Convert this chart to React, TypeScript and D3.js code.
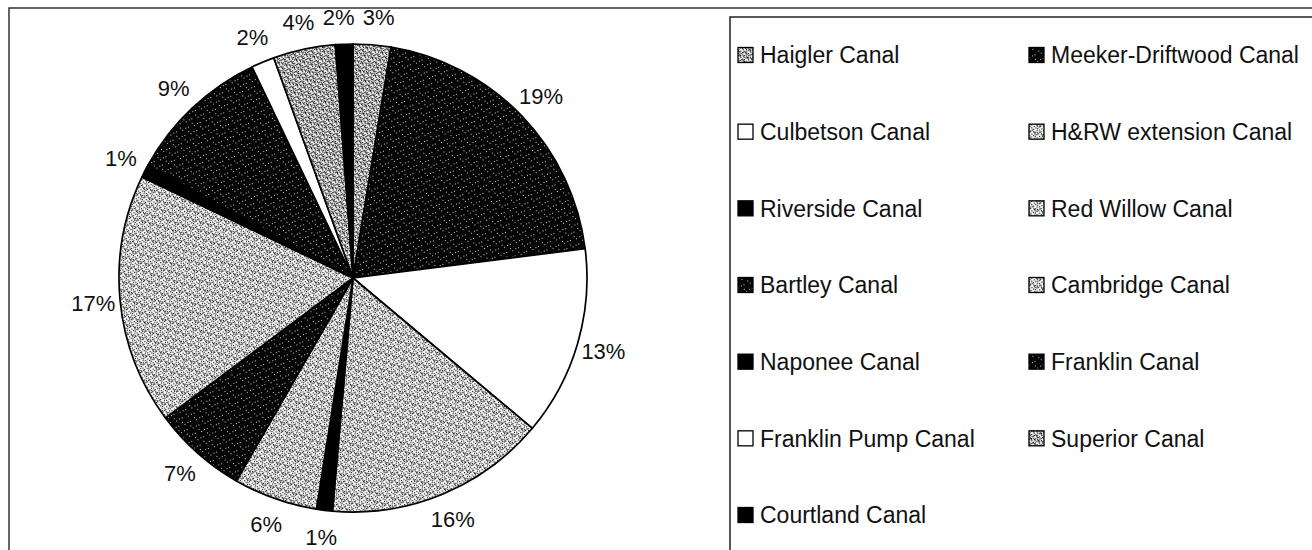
import React, { useEffect, useRef } from 'react';
import * as d3 from 'd3';

// canal names in legend order (row by row, two columns)
const canals = [
  'Haigler Canal',
  'Meeker-Driftwood Canal',
  'Culbetson Canal',
  'H&RW extension Canal',
  'Riverside Canal',
  'Red Willow Canal',
  'Bartley Canal',
  'Cambridge Canal',
  'Naponee Canal',
  'Franklin Canal',
  'Franklin Pump Canal',
  'Superior Canal',
  'Courtland Canal',
];

// share of each canal
const shares = [2.6, 20.4, 13.1, 15.3, 1.1, 5.8, 6.5, 17.3, 0.9, 9.9, 1.6, 4.3, 1.2];

// percentage labels as printed next to the slices
const pctLabels = ['3%', '19%', '13%', '16%', '1%', '6%', '7%', '17%', '1%', '9%', '2%', '4%', '2%'];

// fill style per canal (pattern ids)
const fillKinds = ['stipA', 'dark', 'white', 'stip', 'black', 'stip', 'dark', 'stip', 'black', 'dark', 'white', 'stipA', 'black'];

const FONT = '"Liberation Sans", Arial, Helvetica, sans-serif';

const App: React.FC = () => {
  const svgRef = useRef<SVGSVGElement>(null);

  useEffect(() => {
    if (!svgRef.current) return;
    const svg = d3.select(svgRef.current);
    svg.selectAll('*').remove();

    const width = 1312;
    const height = 550;
    svg.attr('width', width).attr('height', height).attr('viewBox', `0 0 ${width} ${height}`);

    // patterns that mimic the printed stipple
    const defs = svg.append('defs');
    const stipDots = [[0, 0], [3, 1], [6, 0], [1, 3], [5, 2], [2, 5], [7, 4], [4, 6], [0, 6], [6, 6], [3, 4], [1, 7], [5, 7], [7, 2]];
    const mkStip = (id: string, extra: number[][]) => {
      const p = defs.append('pattern').attr('id', id).attr('width', 8).attr('height', 8)
        .attr('patternUnits', 'userSpaceOnUse').attr('patternTransform', 'rotate(17)');
      p.append('rect').attr('width', 8).attr('height', 8).attr('fill', '#fff');
      [...stipDots, ...extra].forEach(([x, y]) => {
        p.append('rect').attr('x', x).attr('y', y).attr('width', 1.2).attr('height', 1.2).attr('fill', '#111');
      });
    };
    mkStip('stip', []);
    mkStip('stipA', [[2, 0], [4, 3], [0, 4], [6, 3], [2, 7]]);
    const dk = defs.append('pattern').attr('id', 'dark').attr('width', 9).attr('height', 9)
      .attr('patternUnits', 'userSpaceOnUse').attr('patternTransform', 'rotate(23)');
    dk.append('rect').attr('width', 9).attr('height', 9).attr('fill', '#050505');
    [[1, 2], [5, 6], [7, 1], [3, 8]].forEach(([x, y]) => {
      dk.append('rect').attr('x', x).attr('y', y).attr('width', 1).attr('height', 1).attr('fill', '#ccc');
    });
    const fillOf = (k: string) => (k === 'white' ? '#fff' : k === 'black' ? '#000' : `url(#${k})`);

    svg.append('rect').attr('width', width).attr('height', height).attr('fill', '#fff');

    // outer chart frame
    svg.append('rect')
      .attr('x', 9).attr('y', 8).attr('width', 1310).attr('height', 600)
      .attr('fill', 'none').attr('stroke', '#333').attr('stroke-width', 1.5);

    // pie
    const cx = 353;
    const cy = 278;
    const r = 234;
    const pie = d3.pie<number>().sort(null).value(d => d);
    const arcs = pie(shares);
    const arc = d3.arc<d3.PieArcDatum<number>>().innerRadius(0).outerRadius(r);
    const labelArc = d3.arc<d3.PieArcDatum<number>>().innerRadius(261).outerRadius(261);

    const g = svg.append('g').attr('transform', `translate(${cx},${cy})`);
    g.selectAll('path.slice')
      .data(arcs)
      .enter()
      .append('path')
      .attr('class', 'slice')
      .attr('d', arc)
      .attr('fill', (_, i) => fillOf(fillKinds[i]))
      .attr('stroke', '#000')
      .attr('stroke-width', 1.7)
      .attr('stroke-linejoin', 'round');

    // label positions, with neighbours pushed apart where they collide
    const pos = arcs.map(d => labelArc.centroid(d));
    const w = pctLabels.map(t => t.length * 16);
    for (let pass = 0; pass < 4; pass++) {
      for (let i = 0; i < pos.length; i++) {
        const j = (i + 1) % pos.length;
        const a = pos[i];
        const b = pos[j];
        if (Math.abs(a[1] - b[1]) > 20) continue;
        const need = (w[i] + w[j]) / 2 + 8;
        const gap = Math.abs(a[0] - b[0]);
        if (gap < need) {
          const s = (need - gap) / 2;
          const dir = a[0] < b[0] ? 1 : -1;
          a[0] -= s * dir;
          b[0] += s * dir;
        }
      }
    }

    g.selectAll('text.pct')
      .data(arcs)
      .enter()
      .append('text')
      .attr('class', 'pct')
      .attr('x', (_, i) => pos[i][0])
      .attr('y', (_, i) => pos[i][1])
      .attr('text-anchor', 'middle')
      .attr('dominant-baseline', 'central')
      .attr('font-family', FONT)
      .attr('font-size', 22)
      .attr('fill', '#111')
      .text((_, i) => pctLabels[i]);

    // legend box
    svg.append('rect')
      .attr('x', 730).attr('y', 17).attr('width', 590).attr('height', 600)
      .attr('fill', '#fff').attr('stroke', '#222').attr('stroke-width', 1.5);

    const colX = d3.scaleOrdinal<number, number>().domain([0, 1]).range([738, 1029]);
    const rowY = d3.scaleLinear().domain([0, 6]).range([55, 515]);
    const leg = svg.append('g');
    const items = leg.selectAll('g.item')
      .data(canals)
      .enter()
      .append('g')
      .attr('class', 'item')
      .attr('transform', (_, i) => `translate(${colX(i % 2)},${rowY(Math.floor(i / 2))})`);
    items.append('rect')
      .attr('x', 0).attr('y', -7.5).attr('width', 15).attr('height', 15)
      .attr('fill', (_, i) => fillOf(fillKinds[i]))
      .attr('stroke', '#000').attr('stroke-width', 1.3);
    items.append('text')
      .attr('x', 22)
      .attr('y', 0)
      .attr('dy', '0.36em')
      .attr('font-family', FONT)
      .attr('font-size', 23)
      .attr('fill', '#111')
      .text(d => d);
  }, []);

  return (
    <svg ref={svgRef} style={{ position: 'absolute', left: 0, top: 0, display: 'block' }} />
  );
};

export default App;
